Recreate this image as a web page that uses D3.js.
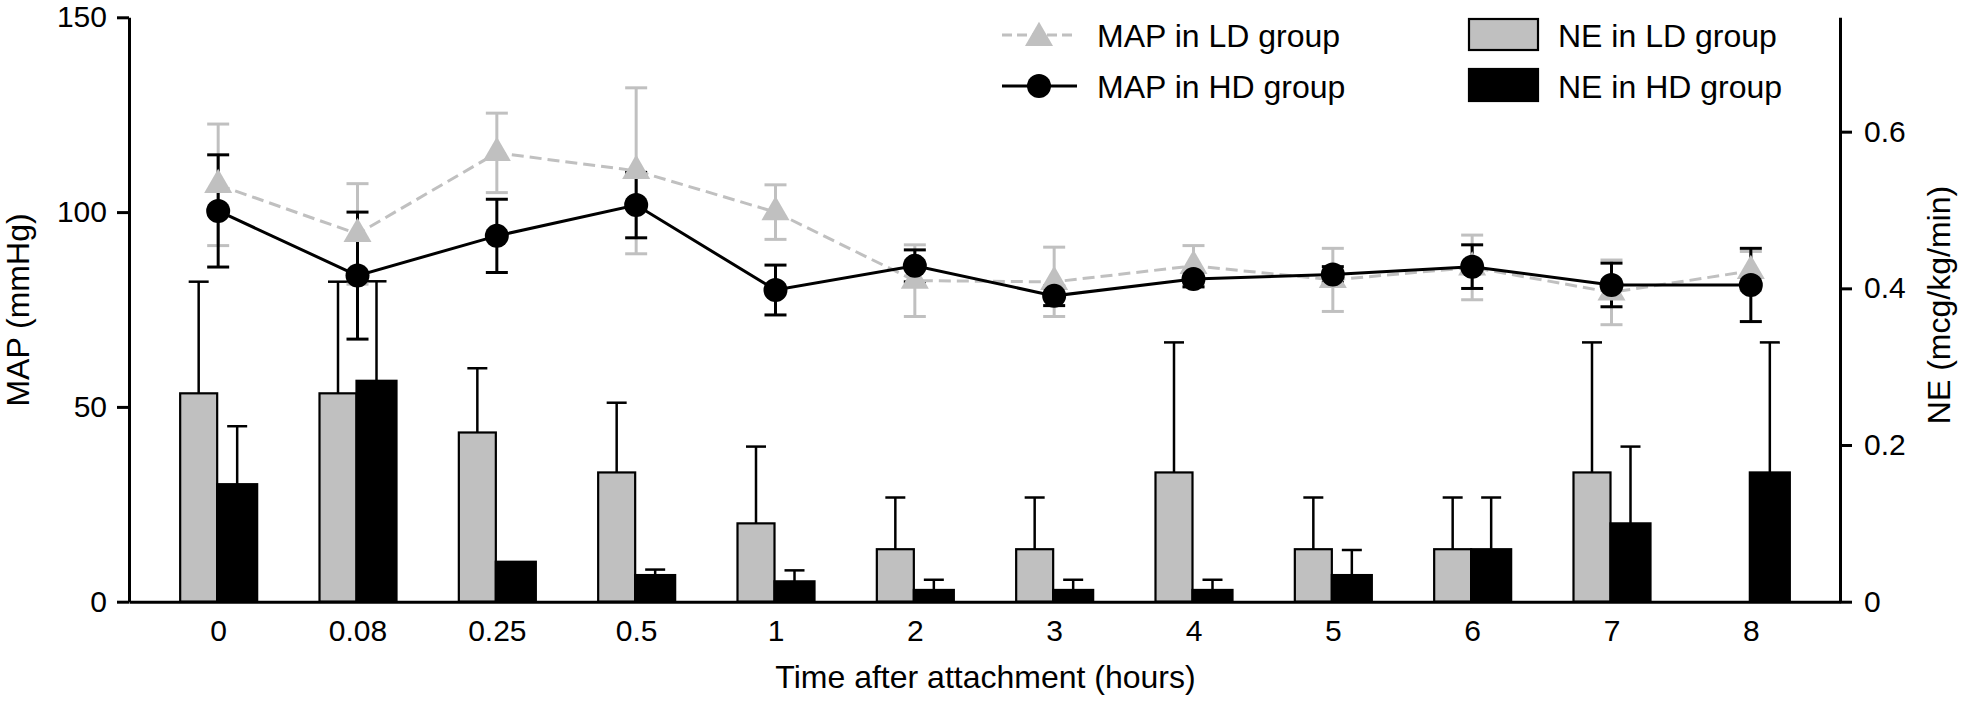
<!DOCTYPE html>
<html>
<head>
<meta charset="utf-8">
<script src="https://cdn.jsdelivr.net/npm/d3@7"></script>
<style>
  html, body { margin: 0; padding: 0; background: #fff; }
  svg text { font-family: "Liberation Sans", Arial, Helvetica, sans-serif; fill: #000; }
</style>
</head>
<body>
<svg id="chart" width="1961" height="703"></svg>
<script>
// ---- data ----
const categories = ["0", "0.08", "0.25", "0.5", "1", "2", "3", "4", "5", "6", "7", "8"];

const mapLD   = [107.0, 94.4, 115.2, 110.6, 100.0, 82.4, 82.1, 86.2, 82.6, 85.8, 79.4, 84.9];
const mapLDsd = [15.6, 12.9, 10.2, 21.3, 7.0, 9.2, 8.9, 5.2, 8.1, 8.3, 8.3, 5.0];
const mapHD   = [100.3, 83.7, 93.9, 101.8, 80.0, 86.2, 78.5, 82.8, 84.0, 86.0, 81.3, 81.3];
const mapHDsd = [14.4, 16.3, 9.4, 8.4, 6.4, 4.1, 2.5, 2.0, 2.0, 5.6, 5.6, 9.4];

const neLD   = [0.266, 0.266, 0.216, 0.165, 0.100, 0.067, 0.067, 0.165, 0.067, 0.067, 0.165, 0];
const neLDsd = [0.1425, 0.1425, 0.082, 0.089, 0.098, 0.066, 0.066, 0.166, 0.066, 0.066, 0.166, 0];
const neHD   = [0.150, 0.282, 0.051, 0.034, 0.026, 0.015, 0.015, 0.015, 0.034, 0.067, 0.100, 0.165];
const neHDsd = [0.074, 0.127, 0, 0.007, 0.014, 0.013, 0.013, 0.013, 0.032, 0.066, 0.098, 0.166];

const leftTicks = [0, 50, 100, 150];
const rightTicks = [0, 0.2, 0.4, 0.6];

const legendLines = ["MAP in LD group", "MAP in HD group"];
const legendBars = ["NE in LD group", "NE in HD group"];

// ---- layout ----
const GRAY = "#c0c0c0";
const xLeft = 129, xRight = 1840, yBottom = 601.7, yTop = 17.3;

const svg = d3.select("#chart");

const x = d3.scalePoint().domain(categories).range([xLeft, xRight]).padding(0.64);
const yL = d3.scaleLinear().domain([0, 150]).range([yBottom, yTop]);
const yR = d3.scaleLinear().domain([0, 0.746]).range([yBottom, yTop]);

const rows = categories.map((c, i) => ({
  c, mapLD: mapLD[i], mapLDsd: mapLDsd[i], mapHD: mapHD[i], mapHDsd: mapHDsd[i],
  neLD: neLD[i], neLDsd: neLDsd[i], neHD: neHD[i], neHDsd: neHDsd[i]
}));

// ---- bars ----
const barG = svg.append("g");
const ldBars = rows.filter(d => d.neLD > 0);
barG.selectAll("rect.ld").data(ldBars).join("rect")
  .attr("x", d => x(d.c) - 38).attr("width", 37)
  .attr("y", d => yR(d.neLD)).attr("height", d => yR(0) - yR(d.neLD))
  .attr("fill", GRAY).attr("stroke", "#000").attr("stroke-width", 2.2);
barG.selectAll("rect.hd").data(rows.filter(d => d.neHD > 0)).join("rect")
  .attr("x", d => x(d.c) - 1).attr("width", 40)
  .attr("y", d => yR(d.neHD)).attr("height", d => yR(0) - yR(d.neHD))
  .attr("fill", "#000").attr("stroke", "#000").attr("stroke-width", 2.2);

// bar error bars (upward only)
function barErr(data, valKey, sdKey, dx) {
  const g = svg.append("g").attr("stroke", "#000").attr("stroke-width", 2.5).attr("fill", "none");
  const dd = data.filter(d => d[sdKey] > 0);
  g.selectAll("line.v").data(dd).join("line")
    .attr("x1", d => x(d.c) + dx).attr("x2", d => x(d.c) + dx)
    .attr("y1", d => yR(d[valKey])).attr("y2", d => yR(d[valKey] + d[sdKey]));
  g.selectAll("line.cap").data(dd).join("line")
    .attr("x1", d => x(d.c) + dx - 10).attr("x2", d => x(d.c) + dx + 10)
    .attr("y1", d => yR(d[valKey] + d[sdKey])).attr("y2", d => yR(d[valKey] + d[sdKey]));
}
barErr(rows, "neLD", "neLDsd", -19.5);
barErr(rows, "neHD", "neHDsd", 19);

// ---- axes ----
const axisStyle = g => {
  g.selectAll(".domain").attr("stroke", "#000").attr("stroke-width", 3);
  g.selectAll(".tick line").attr("stroke", "#000").attr("stroke-width", 3);
  g.selectAll(".tick text").style("font-size", "30px").attr("font-family", null);
};

svg.append("g").attr("transform", `translate(0,${yBottom})`)
  .call(d3.axisBottom(x).tickSize(0).tickPadding(18))
  .call(axisStyle);

svg.append("g").attr("transform", `translate(${xLeft},0)`)
  .call(d3.axisLeft(yL).tickValues(leftTicks).tickSize(12).tickSizeOuter(0).tickPadding(10).tickFormat(d3.format("d")))
  .call(axisStyle);

svg.append("g").attr("transform", `translate(${xRight},0)`)
  .call(d3.axisRight(yR).tickValues(rightTicks).tickSize(12).tickSizeOuter(0).tickPadding(12).tickFormat(d => d === 0 ? "0" : d3.format(".1f")(d)))
  .call(axisStyle);

// ---- MAP error bars ----
function mapErr(key, sdKey, color) {
  const g = svg.append("g").attr("stroke", color).attr("stroke-width", 3).attr("fill", "none");
  g.selectAll("line.v").data(rows).join("line")
    .attr("x1", d => x(d.c)).attr("x2", d => x(d.c))
    .attr("y1", d => yL(d[key] - d[sdKey])).attr("y2", d => yL(d[key] + d[sdKey]));
  g.selectAll("line.t").data(rows).join("line")
    .attr("x1", d => x(d.c) - 11).attr("x2", d => x(d.c) + 11)
    .attr("y1", d => yL(d[key] + d[sdKey])).attr("y2", d => yL(d[key] + d[sdKey]));
  g.selectAll("line.b").data(rows).join("line")
    .attr("x1", d => x(d.c) - 11).attr("x2", d => x(d.c) + 11)
    .attr("y1", d => yL(d[key] - d[sdKey])).attr("y2", d => yL(d[key] - d[sdKey]));
}
mapErr("mapLD", "mapLDsd", GRAY);
mapErr("mapHD", "mapHDsd", "#000");

// LD line + triangles
const tri = d3.symbol().type(d3.symbolTriangle).size(340);
svg.append("path").datum(rows)
  .attr("fill", "none").attr("stroke", GRAY).attr("stroke-width", 3).attr("stroke-dasharray", "12,6")
  .attr("d", d3.line().x(d => x(d.c)).y(d => yL(d.mapLD)));
svg.append("g").selectAll("path").data(rows).join("path")
  .attr("transform", d => `translate(${x(d.c)},${yL(d.mapLD)})`)
  .attr("d", tri).attr("fill", GRAY);

// HD line + circles
svg.append("path").datum(rows)
  .attr("fill", "none").attr("stroke", "#000").attr("stroke-width", 3)
  .attr("d", d3.line().x(d => x(d.c)).y(d => yL(d.mapHD)));
svg.append("g").selectAll("circle").data(rows).join("circle")
  .attr("cx", d => x(d.c)).attr("cy", d => yL(d.mapHD)).attr("r", 12).attr("fill", "#000");

// ---- axis titles ----
svg.append("text").attr("transform", "translate(29,310) rotate(-90)")
  .attr("text-anchor", "middle").style("font-size", "32px").text("MAP (mmHg)");
svg.append("text").attr("transform", "translate(1950,305) rotate(-90)")
  .attr("text-anchor", "middle").style("font-size", "32px").text("NE (mcg/kg/min)");
svg.append("text").attr("x", (xLeft + xRight) / 2 + 1).attr("y", 688)
  .attr("text-anchor", "middle").style("font-size", "32px").text("Time after attachment (hours)");

// ---- legend ----
const leg = svg.append("g");
const legY = [35, 86];
// MAP LD
leg.append("line").attr("x1", 1002).attr("x2", 1077).attr("y1", legY[0]).attr("y2", legY[0])
  .attr("stroke", GRAY).attr("stroke-width", 3).attr("stroke-dasharray", "10,5");
leg.append("path").attr("transform", `translate(1039,${legY[0] + 3})`).attr("d", tri).attr("fill", GRAY);
// MAP HD
leg.append("line").attr("x1", 1002).attr("x2", 1077).attr("y1", legY[1]).attr("y2", legY[1])
  .attr("stroke", "#000").attr("stroke-width", 3);
leg.append("circle").attr("cx", 1039).attr("cy", legY[1]).attr("r", 12).attr("fill", "#000");
leg.selectAll("text.l").data(legendLines).join("text")
  .attr("x", 1097).attr("y", (d, i) => legY[i] + 11.7).style("font-size", "32px").text(d => d);

// NE bars
leg.append("rect").attr("x", 1469).attr("y", 19).attr("width", 69).attr("height", 31)
  .attr("fill", GRAY).attr("stroke", "#000").attr("stroke-width", 2.2);
leg.append("rect").attr("x", 1469).attr("y", 69).attr("width", 69).attr("height", 32)
  .attr("fill", "#000").attr("stroke", "#000").attr("stroke-width", 2.2);
leg.selectAll("text.b").data(legendBars).join("text")
  .attr("x", 1558).attr("y", (d, i) => legY[i] + 11.7).style("font-size", "32px").text(d => d);
</script>
</body>
</html>
